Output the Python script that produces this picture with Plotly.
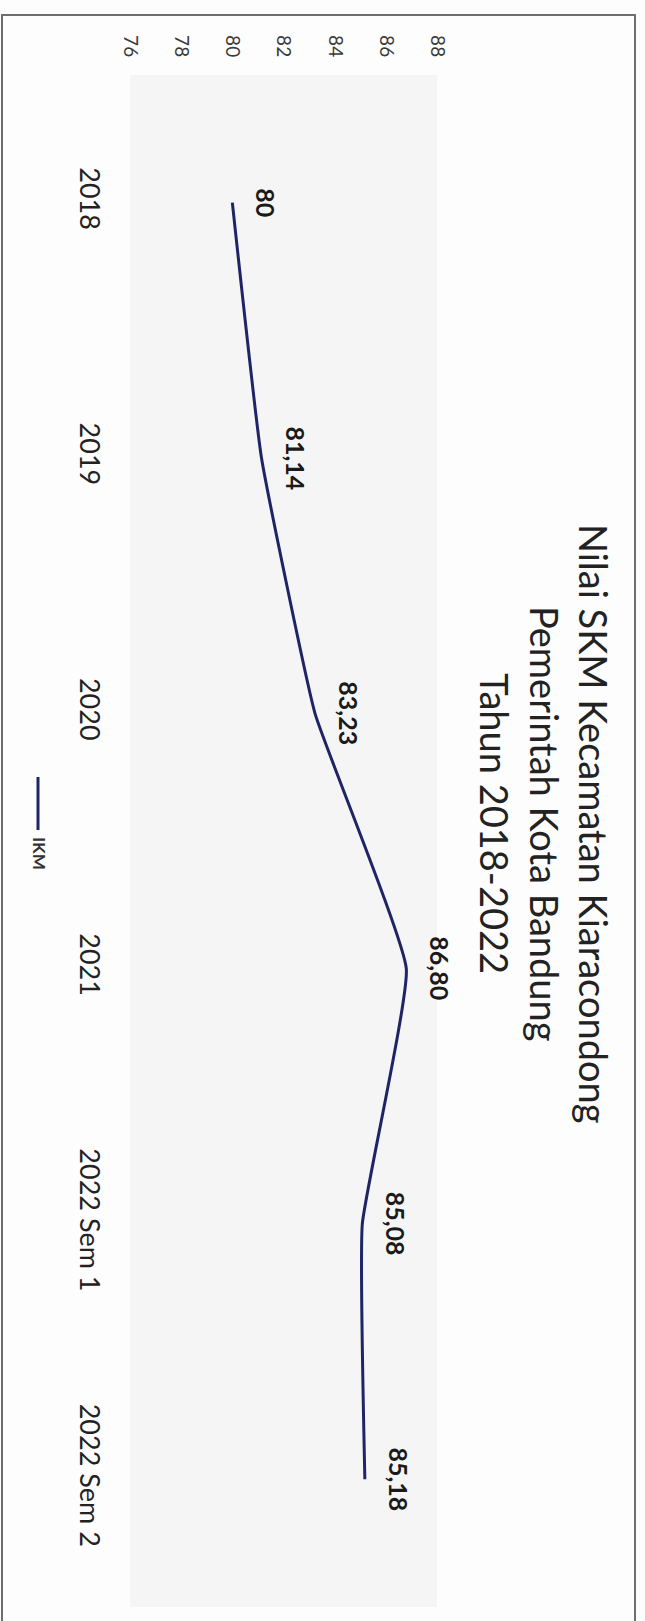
import plotly.graph_objects as go

# ---- data ----
categories = ["2018", "2019", "2020", "2021", "2022 Sem 1", "2022 Sem 2"]
ikm_values = [80.00, 81.14, 83.23, 86.80, 85.08, 85.18]
value_ticks = [76, 78, 80, 82, 84, 86, 88]
series_name = "IKM"
title_lines = ["Nilai SKM Kecamatan Kiaracondong", "Pemerintah Kota Bandung", "Tahun 2018-2022"]

W, H = 645, 1621
ML, MR, MT, MB = 130, 208, 75, 14
PW = W - ML - MR
PH = H - MT - MB


def px_x(px):
    return (px - ML) / PW


def px_y(py):
    return (H - MB - py) / PH


def fmt(v):
    if abs(v - round(v)) < 1e-9:
        return str(int(round(v)))
    return f"{v:.2f}".replace(".", ",")


LINE_COLOR = "#1f2466"
FONT = "Lato"

fig = go.Figure()
fig.add_trace(go.Scatter(
    x=ikm_values, y=categories, mode="lines", name=series_name,
    line=dict(color=LINE_COLOR, width=3, shape="spline", smoothing=0.35),
    showlegend=False, hoverinfo="skip",
))

annotations = []
for i, (c, v) in enumerate(zip(categories, ikm_values)):
    annotations.append(dict(
        x=v, y=i, xref="x", yref="y", text=f"<b>{fmt(v)}</b>", showarrow=False,
        textangle=90, xshift=34, font=dict(family=FONT, size=25, color="#1a1a1a"),
        xanchor="center", yanchor="middle",
    ))

# title (rotated like the rest of the chart)
annotations.append(dict(
    x=px_x(545), y=px_y(823), xref="paper", yref="paper",
    text="<br>".join(title_lines), showarrow=False, textangle=90,
    font=dict(family=FONT, size=38, color="#222222"),
    xanchor="center", yanchor="middle", align="center",
))

# legend text
annotations.append(dict(
    x=px_x(39), y=px_y(853), xref="paper", yref="paper",
    text=f"<b>{series_name}</b>", showarrow=False, textangle=90,
    font=dict(family=FONT, size=17, color="#333333"),
    xanchor="center", yanchor="middle",
))

shapes = [
    # legend line sample
    dict(type="line", xref="paper", yref="paper",
         x0=px_x(38), x1=px_x(38), y0=px_y(777), y1=px_y(830),
         line=dict(color=LINE_COLOR, width=3)),
    # outer border
    dict(type="rect", xref="paper", yref="paper",
         x0=px_x(2), x1=px_x(635), y0=px_y(1622), y1=px_y(15),
         line=dict(color="#6f6f6f", width=2), fillcolor="rgba(0,0,0,0)", layer="below"),
]

fig.update_layout(
    width=W, height=H,
    margin=dict(l=ML, r=MR, t=MT, b=MB, pad=0),
    paper_bgcolor="#fdfdfd",
    plot_bgcolor="#f5f5f5",
    showlegend=False,
    annotations=annotations,
    shapes=shapes,
    font=dict(family=FONT),
)

fig.update_xaxes(
    side="top", range=[76, 88], tickvals=value_ticks,
    ticktext=[str(t) for t in value_ticks],
    tickangle=90, showgrid=False, zeroline=False, showline=False, ticks="",
    tickfont=dict(family=FONT, size=19, color="#3a3a3a"),
    ticklabelstandoff=14,
)
fig.update_yaxes(
    type="category", categoryorder="array", categoryarray=categories,
    range=[5.5, -0.5], tickangle=90, showgrid=False, zeroline=False,
    showline=False, ticks="",
    tickfont=dict(family=FONT, size=27, color="#222222"),
    ticklabelstandoff=22,
)

fig.write_html("out.html", config={"displayModeBar": False})
